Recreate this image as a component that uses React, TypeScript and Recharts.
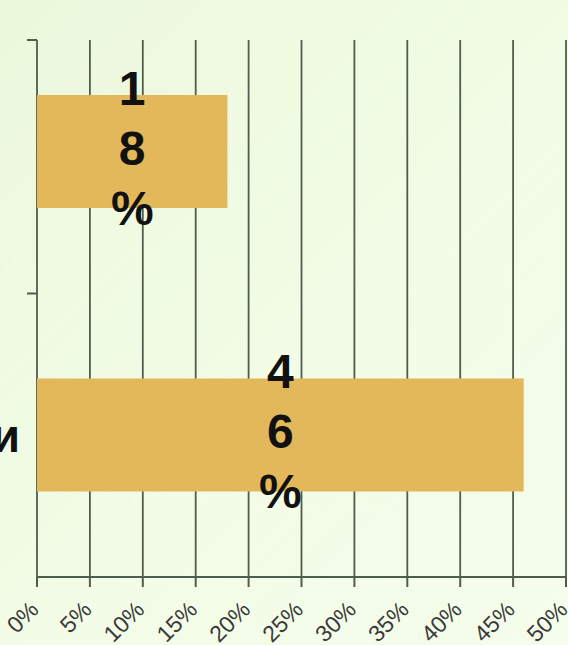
import React from 'react';
import { BarChart, Bar, XAxis, YAxis, CartesianGrid, LabelList } from 'recharts';

const categories = ['', 'и'];
const shares = [18, 46];
const xTicks = [0, 5, 10, 15, 20, 25, 30, 35, 40, 45, 50];

const data = categories.map((name, i) => ({ name, value: shares[i] }));

const GRID_INSET = 30;
const LINE = '#4f5d4d';

if (typeof document !== 'undefined') {
  document.body.style.margin = '0';
  document.body.style.overflow = 'hidden';
}

const XTick = ({ x, y, payload }: any) => (
  <g transform={`translate(${x + 3},${y + 22}) rotate(-45)`}>
    <text
      x={0}
      y={0}
      textAnchor="end"
      fontFamily="'Liberation Sans', Arial, sans-serif"
      fontSize={23}
      fill="#3a3a3a"
    >
      {payload.value}%
    </text>
  </g>
);

const YTick = ({ x, y, payload, index }: any) => {
  const half = payload.offset ?? 141;
  const top = index === 0 ? y - half + GRID_INSET : y - half;
  return (
    <g>
      <line x1={x + 2} x2={x + 12} y1={top} y2={top} stroke={LINE} strokeWidth={2} />
      <text
        x={x - 5}
        y={y + 17}
        textAnchor="end"
        fontFamily="'Liberation Sans', Arial, sans-serif"
        fontWeight="bold"
        fontSize={46}
        fill="#111"
      >
        {payload.value}
      </text>
    </g>
  );
};

const VerticalLine = (props: any) => (
  <line
    key={props.key ?? `v-${props.index}`}
    x1={props.x1}
    x2={props.x2}
    y1={props.y1 + GRID_INSET}
    y2={props.y2}
    stroke={LINE}
    strokeWidth={1.8}
  />
);

const StackedLabel = (props: any) => {
  const { x, y, width, height, value } = props;
  const cx = x + width / 2;
  const cy = y + height / 2;
  const chars = `${value}%`.split('');
  return (
    <text
      textAnchor="middle"
      fontFamily="'Liberation Sans', Arial, sans-serif"
      fontWeight="bold"
      fontSize={48}
      fill="#111"
    >
      {chars.map((c, i) => (
        <tspan key={i} x={cx} y={cy + (i - 1) * 60 + 13}>
          {c}
        </tspan>
      ))}
    </text>
  );
};

export default function App() {
  return (
    <div
      style={{
        width: 568,
        height: 645,
        background: 'linear-gradient(135deg, #ecf8dc 0%, #f2fce6 55%, #f5fdeb 100%)',
        overflow: 'hidden',
      }}
    >
      <BarChart
        width={568}
        height={645}
        data={data}
        layout="vertical"
        margin={{ top: 10, right: 2, bottom: 0, left: 0 }}
        barSize={113}
      >
        <CartesianGrid horizontal={false} vertical={VerticalLine} verticalValues={xTicks} />
        <XAxis
          type="number"
          dataKey="value"
          domain={[0, 50]}
          ticks={xTicks}
          interval={0}
          height={68}
          axisLine={{ stroke: LINE, strokeWidth: 2 }}
          tickLine={{ stroke: LINE, strokeWidth: 2 }}
          tickSize={10}
          tick={<XTick />}
        />
        <YAxis
          type="category"
          dataKey="name"
          width={37}
          axisLine={false}
          tickLine={false}
          tickSize={10}
          tickMargin={2}
          tick={<YTick />}
        />
        <Bar dataKey="value" fill="#e2b85b" isAnimationActive={false}>
          <LabelList dataKey="value" content={<StackedLabel />} />
        </Bar>
      </BarChart>
    </div>
  );
}
